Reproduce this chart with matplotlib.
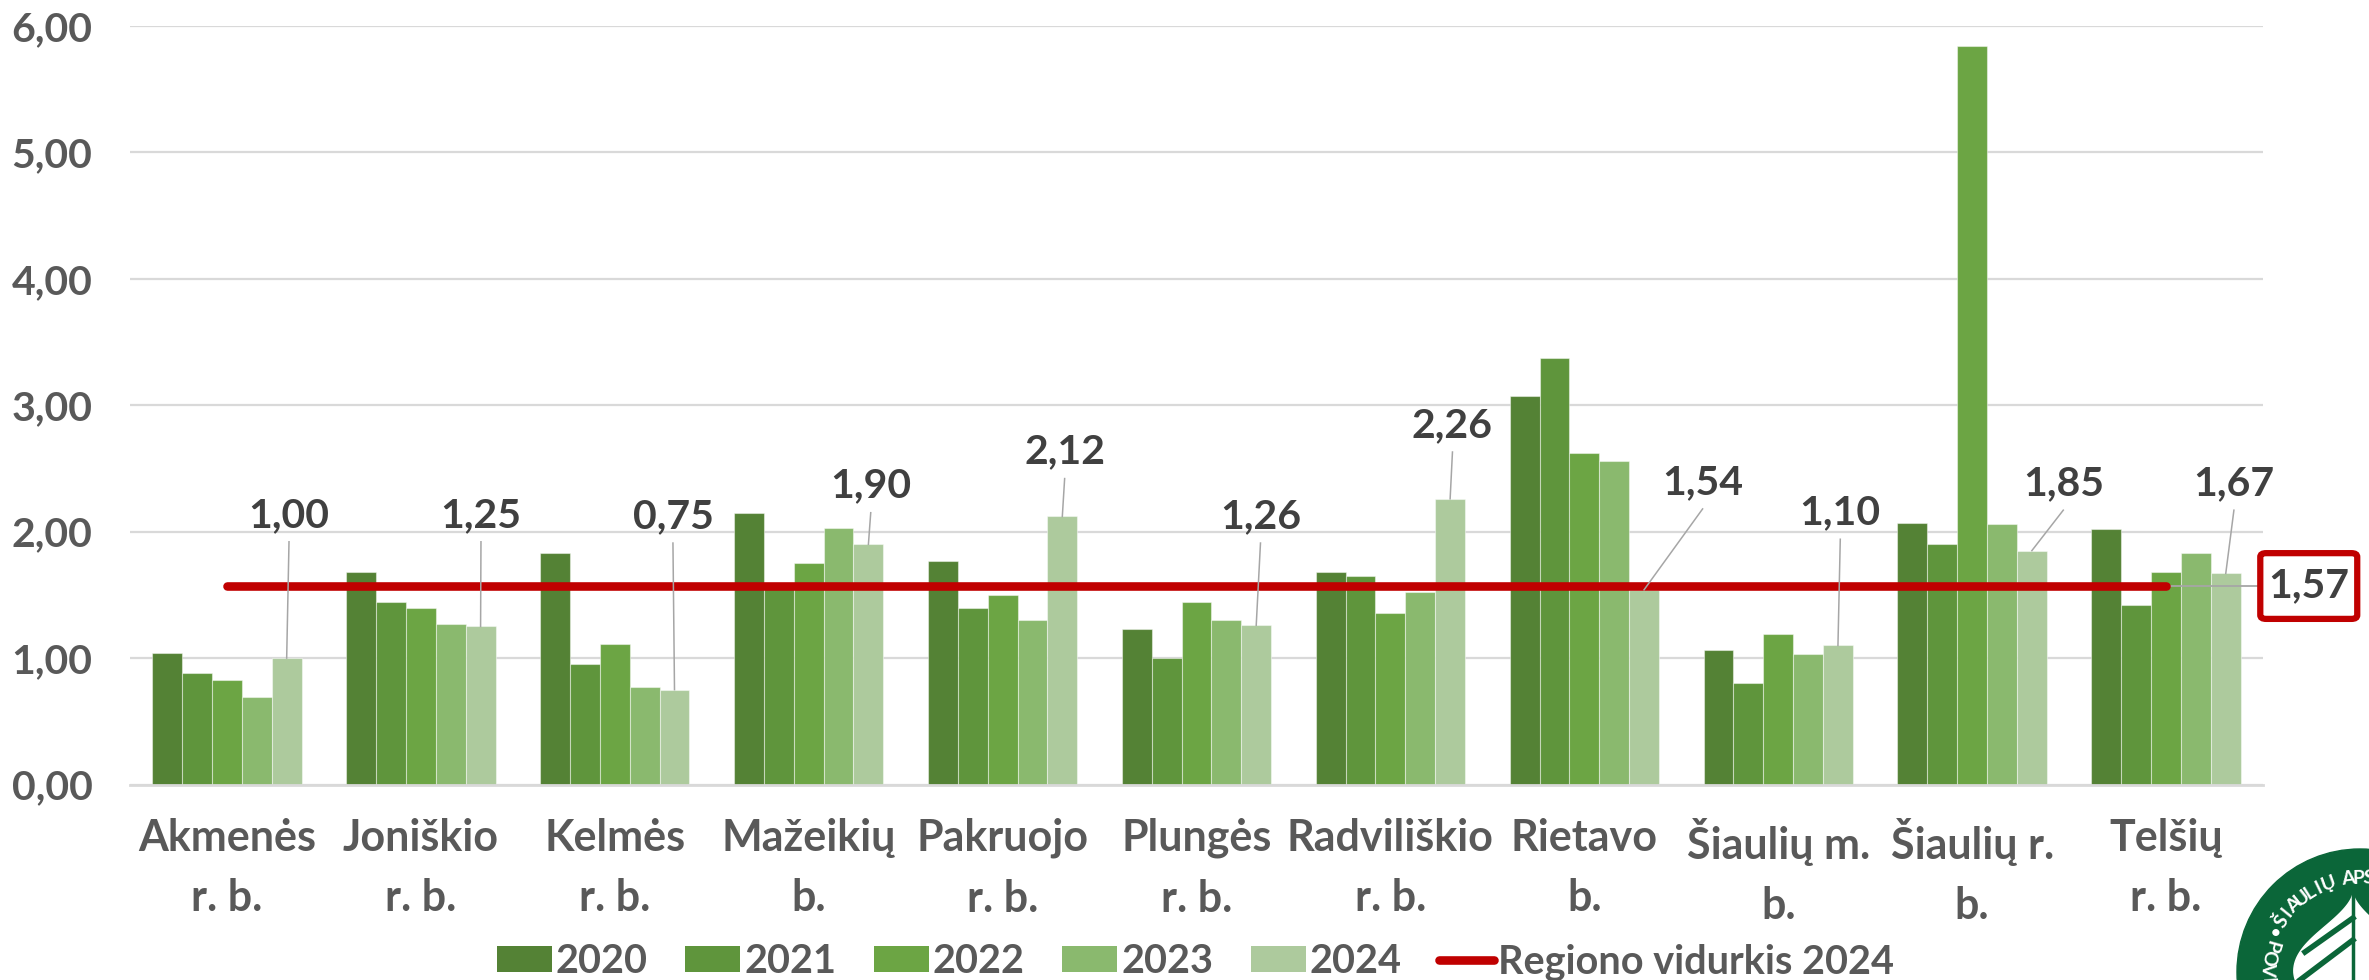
import numpy as np
import matplotlib
matplotlib.use('Agg')
import matplotlib.pyplot as plt
from matplotlib.patches import Patch, Circle, Polygon, FancyBboxPatch
from matplotlib.lines import Line2D

plt.rcParams['font.family'] = ['Lato', 'DejaVu Sans']
plt.rcParams['font.weight'] = 'bold'

categories = ['Akmenės\nr. b.', 'Joniškio\nr. b.', 'Kelmės\nr. b.', 'Mažeikių\nb.',
              'Pakruojo\nr. b.', 'Plungės\nr. b.', 'Radviliškio\nr. b.', 'Rietavo\nb.',
              'Šiaulių m.\nb.', 'Šiaulių r.\nb.', 'Telšių\nr. b.']
years = ['2020', '2021', '2022', '2023', '2024']
v2020 = [1.04, 1.68, 1.83, 2.15, 1.77, 1.23, 1.68, 3.07, 1.06, 2.07, 2.02]
v2021 = [0.88, 1.44, 0.95, 1.56, 1.40, 1.00, 1.65, 3.37, 0.80, 1.90, 1.42]
v2022 = [0.83, 1.40, 1.11, 1.75, 1.50, 1.44, 1.36, 2.62, 1.19, 5.84, 1.68]
v2023 = [0.69, 1.27, 0.77, 2.03, 1.30, 1.30, 1.52, 2.56, 1.03, 2.06, 1.83]
v2024 = [1.00, 1.25, 0.75, 1.90, 2.12, 1.26, 2.26, 1.54, 1.10, 1.85, 1.67]
region_avg_2024 = 1.57
avg_label = 'Regiono vidurkis 2024'
y_ticks = [0, 1, 2, 3, 4, 5, 6]

series = [v2020, v2021, v2022, v2023, v2024]
colors = ['#548235', '#5F953C', '#6CA544', '#8AB96E', '#ADCA9D']

# label placement for 2024 values (offset from category centre, height)
label_dx = [0.32, 0.31, 0.30, 0.32, 0.32, 0.33, 0.32, 0.61, 0.32, 0.47, 0.35]
label_y = [2.13, 2.13, 2.12, 2.36, 2.63, 2.12, 2.84, 2.39, 2.15, 2.38, 2.38]

def fmt(v):
    return f'{v:.2f}'.replace('.', ',')

W, H = 2369, 980
fig = plt.figure(figsize=(W / 100, H / 100), dpi=100)
ax = fig.add_axes([130 / W, 195.5 / H, 2133 / W, 758.5 / H])

x = np.arange(len(categories))
bw = 0.154
for i, (vals, c) in enumerate(zip(series, colors)):
    ax.bar(x + (i - 2) * bw, vals, bw, color=c, edgecolor=(1, 1, 1, 0.45),
           linewidth=0.8, label=years[i], zorder=2)

ax.plot(x, [region_avg_2024] * len(x), color='#C00000', lw=6.2,
        solid_capstyle='round', zorder=4, label=avg_label)

# data labels for 2024 with leader lines
for i, v in enumerate(v2024):
    lx = x[i] + label_dx[i]
    ly = label_y[i]
    ax.plot([lx, x[i] + 2 * bw], [ly - 0.21, v], color='#A6A6A6', lw=1.1, zorder=5)
    ax.text(lx, ly, fmt(v), ha='center', va='center', fontsize=29.5,
            color='#404040', fontweight='bold', zorder=6)

# average callout
box_x, box_w, box_h = 10.736, 0.50, 0.52
ax.plot([x[-1], box_x - box_w / 2], [region_avg_2024] * 2, color='#A6A6A6', lw=1.3,
        zorder=3, clip_on=False)
ax.add_patch(FancyBboxPatch((box_x - box_w / 2, region_avg_2024 - box_h / 2), box_w, box_h,
                            boxstyle='round,pad=0,rounding_size=0.03', fc='white',
                            ec='#C00000', lw=4.5, clip_on=False, zorder=6))
ax.text(box_x, region_avg_2024, fmt(region_avg_2024), ha='center', va='center',
        fontsize=29.5, color='#404040', fontweight='bold', zorder=7, clip_on=False)

ax.set_xlim(-0.5, len(categories) - 0.5)
ax.set_ylim(0, 6)
ax.set_yticks(y_ticks)
ax.set_yticklabels([fmt(t) for t in y_ticks], fontsize=29.5, color='#595959',
                   fontweight='bold')
ax.set_xticks(x)
ax.set_xticklabels(categories, fontsize=31, color='#595959', fontweight='bold',
                   linespacing=1.62)
ax.tick_params(axis='both', length=0)
ax.tick_params(axis='y', pad=27)
ax.tick_params(axis='x', pad=24)
ax.yaxis.grid(True, color='#D9D9D9', lw=1.6, zorder=0)
ax.set_axisbelow(True)
for s in ['top', 'left', 'right']:
    ax.spines[s].set_visible(False)
ax.spines['bottom'].set_color('#D9D9D9')
ax.spines['bottom'].set_linewidth(2.0)

handles = [Patch(facecolor=c, label=y) for c, y in zip(colors, years)]
handles.append(Line2D([0], [0], color='#C00000', lw=6.2, solid_capstyle='round',
                      label=avg_label))
leg = fig.legend(handles=handles, loc='center', bbox_to_anchor=(1195.5 / W, 1 - 962 / H),
                 ncol=6, frameon=False, fontsize=28.5, handlelength=1.39,
                 handleheight=0.62, handletextpad=0.1, columnspacing=0.95)
for t in leg.get_texts():
    t.set_color('#595959')
    t.set_fontweight('bold')

# logo in the corner
ov = fig.add_axes([0, 0, 1, 1], zorder=10)
ov.set_xlim(0, W)
ov.set_ylim(0, H)
ov.axis('off')
cx, cy, r = 2360, 8, 123
green = '#0B6639'
ov.add_patch(Circle((cx, cy), r, color=green))
t = np.linspace(0, 2 * np.pi, 200)
hx = 16 * np.sin(t) ** 3
hy = -(13 * np.cos(t) - 5 * np.cos(2 * t) - 2 * np.cos(3 * t) - np.cos(4 * t))
ov.add_patch(Polygon(np.column_stack([2353 + 3.7 * hx, 24 + 3.7 * hy]), color='white'))
ov.plot([2353, 2353], [0, 88], color=green, lw=2.5)
ov.plot([2353, 2305], [62, 28], color=green, lw=4)
ov.plot([2353, 2300], [40, 0], color=green, lw=4)
top_text = 'ŠIAULIŲ APSKR'
for k, ch in enumerate(top_text):
    a = np.deg2rad(147 - 6.2 * k)
    ov.text(cx + 94 * np.cos(a), cy + 94 * np.sin(a), ch, color='white',
            fontsize=14, fontweight='bold', ha='center', va='center',
            rotation=np.rad2deg(a) - 90)
a = np.deg2rad(155)
ov.text(cx + 93 * np.cos(a), cy + 93 * np.sin(a), '•', color='white', fontsize=12,
        ha='center', va='center')
for k, ch in enumerate('POVI'):
    a = np.deg2rad(164 + 7 * k)
    ov.text(cx + 93 * np.cos(a), cy + 93 * np.sin(a), ch, color='white',
            fontsize=14, fontweight='bold', ha='center', va='center',
            rotation=np.rad2deg(a) + 90)

fig.savefig('out.png', dpi=100)
